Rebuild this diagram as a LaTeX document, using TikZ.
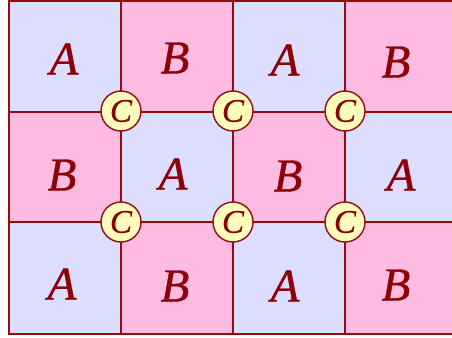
\documentclass[tikz,border=0pt]{standalone}
\usepackage{fontspec}
\setmainfont{Liberation Serif}
\newfontfamily\letfont[FakeBold=0.8]{Liberation Serif}
\begin{document}
\begin{tikzpicture}[x=1pt,y=-1pt,
  cellA/.style={fill=lavA,draw=lineRed,line width=1.6pt},
  cellB/.style={fill=pinkB,draw=lineRed,line width=1.6pt},
  letter/.style={text=letRed,font=\letfont\fontsize{47}{47}\selectfont\itshape},
  joint/.style={circle,fill=yelC,draw=lineRed,line width=1.4pt,minimum size=40pt,inner sep=0pt,text=letRed,font=\letfont\fontsize{33}{33}\selectfont\itshape}]
\definecolor{lavA}{HTML}{DDDDFD}
\definecolor{pinkB}{HTML}{FDBBE2}
\definecolor{yelC}{HTML}{FFFDBB}
\definecolor{lineRed}{HTML}{960A10}
\definecolor{letRed}{HTML}{8E0008}
\useasboundingbox (0,0) rectangle (452,337);
% row 1
\draw[cellA] (9,1) rectangle (121,112);
\draw[cellB] (121,1) rectangle (233,112);
\draw[cellA] (233,1) rectangle (345,112);
\draw[cellB] (345,1) rectangle (458,112);
% row 2
\draw[cellB] (9,112) rectangle (121,222);
\draw[cellA] (121,112) rectangle (233,222);
\draw[cellB] (233,112) rectangle (345,222);
\draw[cellA] (345,112) rectangle (458,222);
% row 3
\draw[cellA] (9,222) rectangle (121,334);
\draw[cellB] (121,222) rectangle (233,334);
\draw[cellA] (233,222) rectangle (345,334);
\draw[cellB] (345,222) rectangle (458,334);
% letters
\node[letter] (l11) at (64,59) {A};
\node[letter] (l12) at (175,58) {B};
\node[letter] (l13) at (285,60) {A};
\node[letter] (l14) at (396,62) {B};
\node[letter] (l21) at (62,175) {B};
\node[letter] (l22) at (173,174) {A};
\node[letter] (l23) at (288,176) {B};
\node[letter] (l24) at (401,175) {A};
\node[letter] (l31) at (62,284) {A};
\node[letter] (l32) at (175,286) {B};
\node[letter] (l33) at (285,286) {A};
\node[letter] (l34) at (396,285) {B};
% joints
\node[joint] (c1) at (121,111) {C};
\node[joint] (c2) at (233,111) {C};
\node[joint] (c3) at (345,111) {C};
\node[joint] (c4) at (121,222) {C};
\node[joint] (c5) at (233,222) {C};
\node[joint] (c6) at (345,222) {C};
\end{tikzpicture}
\end{document}
